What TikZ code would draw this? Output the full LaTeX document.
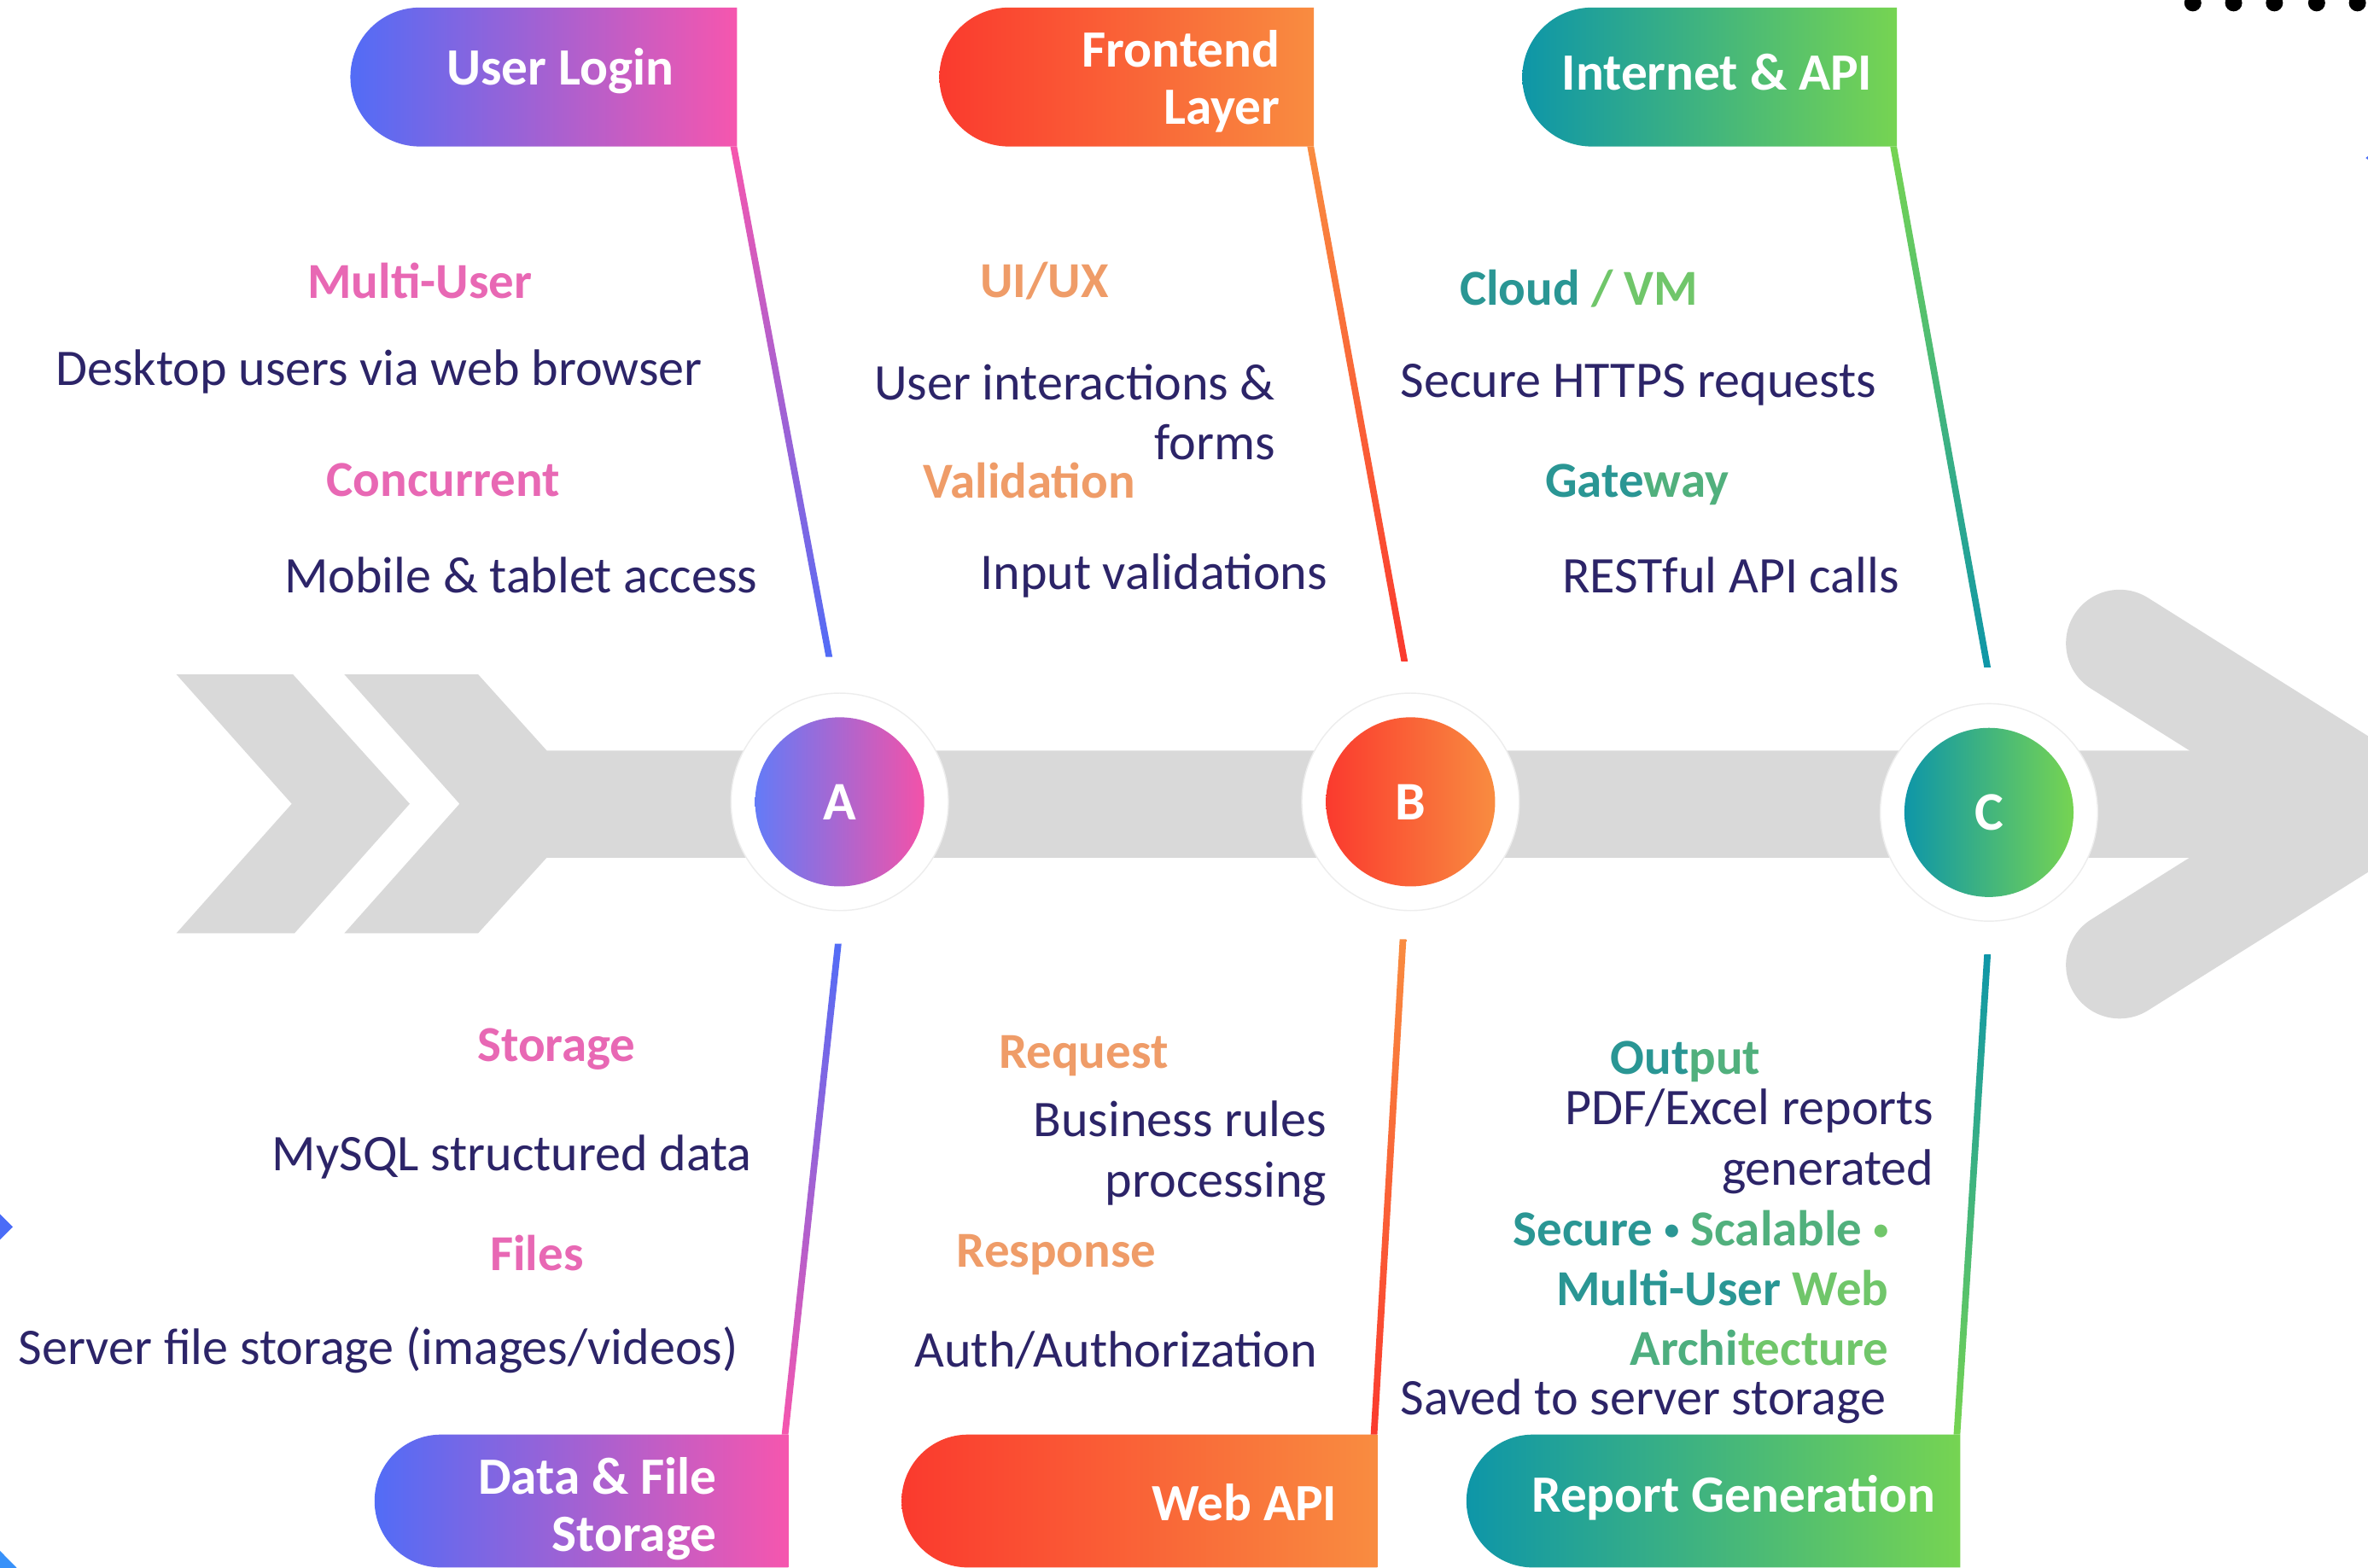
\documentclass[tikz,border=0pt]{standalone}
\usepackage{fontspec}
\setmainfont{Carlito}
\usetikzlibrary{calc,shapes.misc}

\definecolor{navy}{RGB}{44,36,104}
\definecolor{arrowgray}{RGB}{217,217,217}
\definecolor{blueA}{RGB}{82,108,246}
\definecolor{pinkA}{RGB}{246,86,174}
\definecolor{redB}{RGB}{250,58,46}
\definecolor{orangeB}{RGB}{249,140,64}
\definecolor{tealC}{RGB}{14,150,168}
\definecolor{greenC}{RGB}{118,212,82}
\definecolor{pinkLab}{RGB}{232,104,180}
\definecolor{orangeLab}{RGB}{239,156,104}
\definecolor{tealLab}{RGB}{42,150,148}
\definecolor{greenLab}{RGB}{112,198,106}
\definecolor{dotblue}{RGB}{74,108,247}

\tikzset{every picture/.style={line width=0.75pt}}
\tikzset{
  body/.style={inner sep=0.75pt, text=navy, font=\fontsize{25.5}{30}\selectfont},
  lab/.style={inner sep=0.75pt, font=\bfseries\fontsize{25}{29.5}\selectfont},
  head/.style={inner sep=0.75pt, text=white, align=right, font=\bfseries\fontsize{26}{28.5}\selectfont},
  tab/.style 2 args={rounded rectangle, rounded rectangle east arc=none, minimum width=#1, minimum height=#2, inner sep=0pt, outer sep=0pt},
  ring/.style={circle, fill=white, draw=black!7, line width=0.6pt, minimum size=108pt, inner sep=0pt},
  disc/.style={circle, minimum size=84pt, inner sep=0pt, text=white, font=\bfseries\fontsize{27}{30}\selectfont},
}

\begin{document}
\begin{tikzpicture}[x=0.75pt,y=0.75pt,yscale=-1,xscale=1]
\useasboundingbox (0,0) rectangle (1568,1038);
\clip (0,0) rectangle (1568,1038);
\fill[white] (0,0) rectangle (1568,1038);

%Shape: Chevron
\fill[arrowgray] (116.8,446.6) -- (194,446.6) -- (271.3,532.3) -- (195,618) -- (116.8,618) -- (193.2,532.3) -- cycle;
%Shape: Arrow Body
\fill[arrowgray] (228,446.6) -- (316.6,446.6) -- (362,497) -- (1530,497) -- (1530,568) -- (362,568) -- (316.6,618) -- (228,618) -- (304.3,532.3) -- cycle;
%Shape: Arrow Head
\draw[arrowgray, line width=53.25pt, line cap=round, line join=round] (1403.5,426) -- (1573,532.5) -- (1403.5,639);

%Shape: Circle
\draw (556,531) node (ringA) [ring] {};
\draw (556,531) node (discA) [disc, left color=blueA!90!white, right color=pinkA!95!purple] {A};
%Shape: Circle
\draw (934,531) node (ringB) [ring] {};
\draw (934,531) node (discB) [disc, left color=redB, right color=orangeB] {B};
%Shape: Circle
\draw (1317,538) node (ringC) [ring] {};
\draw (1317,538) node (discC) [disc, left color=tealC, right color=greenC] {C};

%Shape: Tab
\draw (360,51) node (boxLogin) [tab={192pt}{69pt}, left color=blueA, right color=pinkA] {};
\draw (746,51) node (boxFront) [tab={186pt}{69pt}, left color=redB, right color=orangeB] {};
\draw (1132,51) node (boxNet) [tab={186pt}{69pt}, left color=tealC, right color=greenC] {};
\draw (385,994) node (boxData) [tab={205.5pt}{66pt}, left color=blueA, right color=pinkA] {};
\draw (754.5,994) node (boxWeb) [tab={236.25pt}{66pt}, left color=redB, right color=orangeB] {};
\draw (1134.5,994) node (boxReport) [tab={245.25pt}{66pt}, left color=tealC, right color=greenC] {};

%Straight Lines
\coordinate (aUp) at (549,435);
\coordinate (aDown) at (555,625);
\coordinate (bUp) at (930,438);
\coordinate (bDown) at (929,622);
\coordinate (cUp) at (1316,442);
\coordinate (cDown) at (1316,632);
\shade[top color=pinkA, bottom color=blueA] ($(boxLogin.south east)+(-4.4,0)$) -- (boxLogin.south east) -- ($(aUp)+(2.2,0)$) -- ($(aUp)+(-2.2,0)$) -- cycle;
\shade[top color=blueA, bottom color=pinkA] ($(aDown)+(-2.2,0)$) -- ($(aDown)+(2.2,0)$) -- (boxData.north east) -- ($(boxData.north east)+(-4.4,0)$) -- cycle;
\shade[top color=orangeB, bottom color=redB] ($(boxFront.south east)+(-4.4,0)$) -- (boxFront.south east) -- ($(bUp)+(2.2,0)$) -- ($(bUp)+(-2.2,0)$) -- cycle;
\shade[top color=orangeB, bottom color=redB] ($(bDown)+(-2.2,0)$) -- ($(bDown)+(2.2,0)$) -- (boxWeb.north east) -- ($(boxWeb.north east)+(-4.4,0)$) -- cycle;
\shade[top color=greenC, bottom color=tealC] ($(boxNet.south east)+(-4.4,0)$) -- (boxNet.south east) -- ($(cUp)+(2.2,0)$) -- ($(cUp)+(-2.2,0)$) -- cycle;
\shade[top color=tealC, bottom color=greenC] ($(cDown)+(-2.2,0)$) -- ($(cDown)+(2.2,0)$) -- (boxReport.north east) -- ($(boxReport.north east)+(-4.4,0)$) -- cycle;

% Text Node
\draw (371,47) node (hLogin) [head] {User Login};
\draw (849,54) node (hFront) [head, anchor=east] {Frontend\\Layer};
\draw (1137,48) node (hNet) [head] {Internet \& API};
\draw (476,999) node (hData) [head, anchor=east] {Data \& File\\Storage};
\draw (824,995) node (hWeb) [head] {Web API};
\draw (1148,992) node (hReport) [head] {Report Generation};

% Text Node
\draw (278,186) node (lMulti) [lab, text=pinkLab] {Multi-User};
\draw (251,246) node (tDesk) [body] {Desktop users via web browser};
\draw (293.5,318) node (lConc) [lab, text=pinkLab] {Concurrent};
\draw (345,381) node (tMobile) [body] {Mobile \& tablet access};
% Text Node
\draw (691.5,186) node (lUiux) [lab, text=orangeLab] {UI/UX};
\draw (846,273) node (tInter) [body, anchor=east, align=right] {User interactions \&\\forms};
\draw (681.5,318) node (lValid) [lab, text=orangeLab] {Validation};
\draw (764,381) node (tInput) [body] {Input validations};
% Text Node
\draw (1045.5,191) node (lCloud) [lab] {{\color{tealLab}Cloud} {\color{greenLab}/ VM}};
\draw (1085,255) node (tHttps) [body] {Secure HTTPS requests};
\draw (1084,321) node (lGate) [lab] {{\color{tealLab}Gate}{\color{tealLab!45!greenLab}way}};
\draw (1146,381) node (tRest) [body] {RESTful API calls};

% Text Node
\draw (368.5,695) node (lStor) [lab, text=pinkLab] {Storage};
\draw (339,766) node (tMysql) [body] {MySQL structured data};
\draw (355.5,830) node (lFiles) [lab, text=pinkLab] {Files};
\draw (250.5,894) node (tServer) [body] {Server file storage (images/videos)};
% Text Node
\draw (717.5,699) node (lReq) [lab, text=orangeLab] {Request};
\draw (880,764) node (tBiz) [body, anchor=east, align=right] {Business rules\\processing};
\draw (699.5,831) node (lResp) [lab, text=orangeLab] {Response};
\draw (739,894) node (tAuth) [body] {Auth/Authorization};
% Text Node
\draw (1116,703) node (lOut) [lab] {{\color{tealLab}Out}{\color{tealLab!45!greenLab}put}};
\draw (1282,756) node (tPdf) [body, anchor=east, align=right] {PDF/Excel reports\\generated};
\draw (1252,853) node (lSecure) [lab, anchor=east, align=right] {{\color{tealLab}Secure \raisebox{0.25ex}{\scalebox{0.6}{•}}} {\color{tealLab!45!greenLab}Scalable} {\color{greenLab}\raisebox{0.25ex}{\scalebox{0.6}{•}}}\\{\color{tealLab}Multi-User} {\color{greenLab}Web}\\{\color{tealLab!50!greenLab}Archi}{\color{greenLab}tecture}};
\draw (1088,928) node (tSaved) [body] {Saved to server storage};

%Shape: Dots
\fill (1452,1.9) circle (5.65);
\fill (1479,1.9) circle (5.65);
\fill (1506,1.9) circle (5.65);
\fill (1534,1.9) circle (5.65);
\fill (1561,1.9) circle (5.65);
%Shape: Diamond
\fill[dotblue] (0,804) -- (8.5,812.5) -- (0,821) -- (-8.5,812.5) -- cycle;
\fill[dotblue!75!cyan] (0,1027) -- (11.3,1038.5) -- (0,1038.5) -- cycle;
\fill[dotblue] (1571,101) -- (1574,104.6) -- (1571,108) -- (1566.5,104.6) -- cycle;

\end{tikzpicture}
\end{document}
